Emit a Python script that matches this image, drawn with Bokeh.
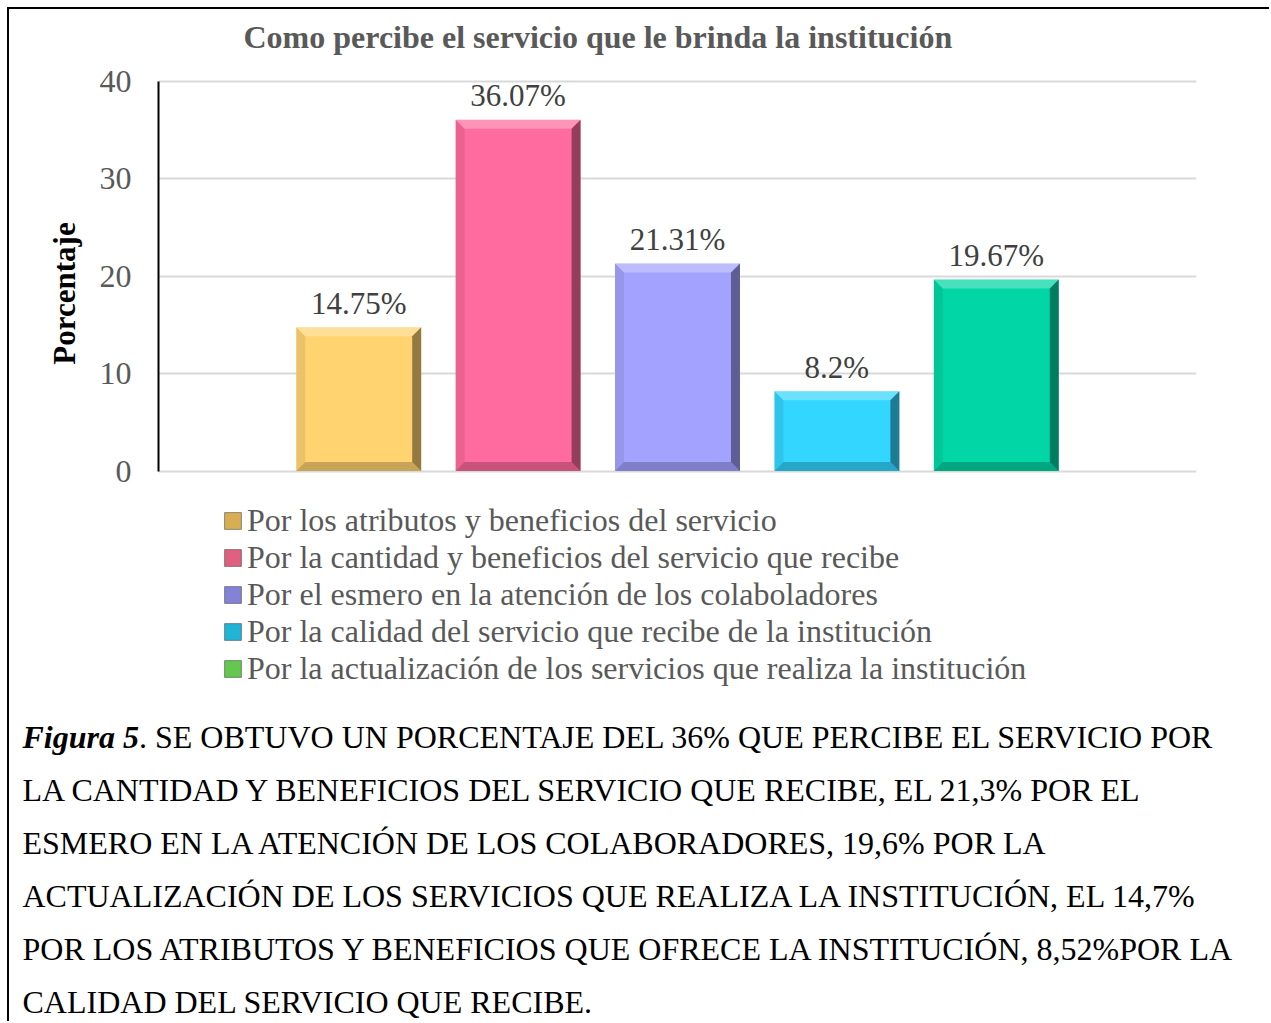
import math
from bokeh.plotting import figure
from bokeh.layouts import column, row
from bokeh.models import Range1d, FixedTicker, Label, Legend, LegendItem
from bokeh.embed import file_html
from bokeh.resources import INLINE
from bokeh.core.properties import value

# ---------------- data ----------------
title_text = "Como percibe el servicio que le brinda la institución"
y_axis_title = "Porcentaje"
categories = [
    "Por los atributos y beneficios del servicio",
    "Por la cantidad y beneficios del servicio que recibe",
    "Por el esmero en la atención de los colaboladores",
    "Por la calidad del servicio que recibe de la institución",
    "Por la actualización de los servicios que realiza la institución",
]
percentages = [14.75, 36.07, 21.31, 8.2, 19.67]
value_labels = ["14.75%", "36.07%", "21.31%", "8.2%", "19.67%"]
y_ticks = [0, 10, 20, 30, 40]
bar_colors = ["#FFD370", "#FF6B9E", "#A3A3FF", "#33D6FF", "#00D6A6"]
legend_colors = ["#D8AE52", "#E0607F", "#8282D6", "#22B4D4", "#62C84E"]
caption_lead = "Figura 5"
caption_lines = [
    ". SE OBTUVO UN PORCENTAJE DEL 36% QUE PERCIBE EL SERVICIO POR",
    "LA CANTIDAD Y BENEFICIOS DEL SERVICIO QUE RECIBE, EL 21,3% POR EL",
    "ESMERO EN LA ATENCIÓN DE LOS COLABORADORES, 19,6% POR LA",
    "ACTUALIZACIÓN DE LOS SERVICIOS QUE REALIZA LA INSTITUCIÓN, EL 14,7%",
    "POR LOS ATRIBUTOS Y BENEFICIOS QUE OFRECE LA INSTITUCIÓN, 8,52%POR LA",
    "CALIDAD DEL SERVICIO QUE RECIBE.",
]

# ---------------- layout constants ----------------
FONT = "Liberation Serif"
W = 1260
AXW = 80               # strip holding the vertical axis title
PW = W - AXW           # main chart canvas width
ML, FW = 69, 1038
MR = PW - ML - FW
HM = 481               # main chart canvas height
HB = 531               # legend + caption canvas height
PX_PER_UNIT_Y = 9.7375
Y_TOP = 461.5 / PX_PER_UNIT_Y
Y_BOT = -(HM - 461.5) / PX_PER_UNIT_Y
X0, X1 = -1.256, 5.256
BAR_W = 0.784
TXT_SHIFT = 12         # baseline correction observed for svg text


def no_align(fig):
    if "frame_align" in fig.properties():
        fig.frame_align = False


# ---------------- vertical axis title strip ----------------
a = figure(width=AXW, height=HM, output_backend="svg", toolbar_location=None,
           x_range=Range1d(0, AXW), y_range=Range1d(HM, 0),
           x_axis_location=None, y_axis_location=None,
           min_border_left=0, min_border_right=0, min_border_top=0, min_border_bottom=0)
a.outline_line_color = None
a.grid.visible = False
no_align(a)
a.add_layout(Label(x=55, y=284, text=y_axis_title, angle=math.pi / 2,
                   text_font=FONT, text_font_size="31px", text_font_style="bold",
                   text_color="black", text_align="center", text_baseline="middle"))

# ---------------- main chart ----------------
p = figure(width=PW, height=HM, output_backend="svg", toolbar_location=None,
           x_range=Range1d(X0, X1), y_range=Range1d(Y_BOT, Y_TOP),
           x_axis_location=None, min_border_left=ML, min_border_right=MR,
           min_border_top=0, min_border_bottom=0)
no_align(p)
p.outline_line_color = None
p.background_fill_color = "white"
p.border_fill_color = "white"
p.xgrid.visible = False

ticker = FixedTicker(ticks=y_ticks)
p.yaxis.ticker = ticker
p.yaxis.bounds = (y_ticks[0], y_ticks[-1])
p.ygrid.ticker = ticker
p.ygrid.grid_line_color = "#D9D9D9"
p.ygrid.grid_line_width = 2
p.yaxis.axis_line_color = "black"
p.yaxis.axis_line_width = 2
p.yaxis.major_tick_line_color = None
p.yaxis.minor_tick_line_color = None
p.yaxis.major_tick_out = 0
p.yaxis.major_tick_in = 0
p.yaxis.major_label_standoff = 27
p.yaxis.major_label_text_font = FONT
p.yaxis.major_label_text_font_size = "32px"
p.yaxis.major_label_text_color = "#595959"

xs = list(range(len(percentages)))

p.vbar(x=xs, top=percentages, width=BAR_W, bottom=0,
       fill_color=bar_colors, line_color=None)

# bevel facets derived from each bar
dx = (X1 - X0) / FW * 9
dy = 9 / PX_PER_UNIT_Y
top_xs, top_ys, right_xs, right_ys, bot_xs, bot_ys, left_xs, left_ys = ([] for _ in range(8))
for xc, v in zip(xs, percentages):
    L, R = xc - BAR_W / 2, xc + BAR_W / 2
    top_xs.append([L, R, R - dx, L + dx]); top_ys.append([v, v, v - dy, v - dy])
    right_xs.append([R, R, R - dx, R - dx]); right_ys.append([v, 0, dy, v - dy])
    bot_xs.append([L, R, R - dx, L + dx]); bot_ys.append([0, 0, dy, dy])
    left_xs.append([L, L, L + dx, L + dx]); left_ys.append([0, v, v - dy, dy])
p.patches(top_xs, top_ys, fill_color="white", fill_alpha=0.28, line_color=None)
p.patches(right_xs, right_ys, fill_color="black", fill_alpha=0.42, line_color=None)
p.patches(bot_xs, bot_ys, fill_color="black", fill_alpha=0.22, line_color=None)
p.patches(left_xs, left_ys, fill_color="black", fill_alpha=0.08, line_color=None)

p.text(x=xs, y=percentages, text=value_labels, text_font=value(FONT),
       text_font_size="31px", text_color="#404040", text_align="center",
       text_baseline="alphabetic", y_offset=-12 - TXT_SHIFT)

p.add_layout(Label(x=85, y=442 + TXT_SHIFT, x_units="screen", y_units="screen",
                   text=title_text, text_font=FONT, text_font_size="32px",
                   text_font_style="bold", text_color="#595959",
                   text_baseline="alphabetic"))

# ---------------- legend + caption ----------------
q = figure(width=W, height=HB, output_backend="svg", toolbar_location=None,
           x_range=Range1d(0, W), y_range=Range1d(HB, 0),
           x_axis_location=None, y_axis_location=None,
           min_border_left=0, min_border_right=0, min_border_top=0, min_border_bottom=0)
no_align(q)
q.outline_line_color = None
q.grid.visible = False
q.background_fill_color = "white"
q.border_fill_color = "white"

items = []
for name, col in zip(categories, legend_colors):
    # legend-only swatch: one undrawable (NaN) row so the legend has a glyph to paint
    r = q.vbar(x=[math.nan], top=[math.nan], width=1, fill_color=col,
               line_color="#404040", line_alpha=0.55, line_width=1)
    items.append(LegendItem(label=name, renderers=[r]))
legend = Legend(items=items, location=(213, 334), orientation="vertical",
                padding=0, margin=0, spacing=0, glyph_width=21, glyph_height=21,
                label_height=37, label_standoff=4, border_line_color=None,
                background_fill_alpha=0, label_text_font=FONT,
                label_text_font_size="32px", label_text_color="#595959")
q.add_layout(legend)

CAP_X = 13
CAP_Y0 = 258 - TXT_SHIFT
q.add_layout(Label(x=CAP_X, y=CAP_Y0, text=caption_lead,
                   text_font=FONT, text_font_size="32px", text_font_style="bold italic",
                   text_color="black", text_baseline="alphabetic"))
for k, line in enumerate(caption_lines):
    xoff = CAP_X + (116.5 if k == 0 else 0)
    q.add_layout(Label(x=xoff, y=CAP_Y0 + 53 * k, text=line, text_font=FONT,
                       text_font_size="32px", text_color="black",
                       text_baseline="alphabetic"))

layout = column(row(a, p, spacing=0), q, spacing=0)
layout.styles = {"margin-left": "7px", "margin-top": "7px",
                 "border-left": "2px solid black", "border-top": "2px solid black"}

open("out.html", "w").write(file_html(layout, INLINE))
